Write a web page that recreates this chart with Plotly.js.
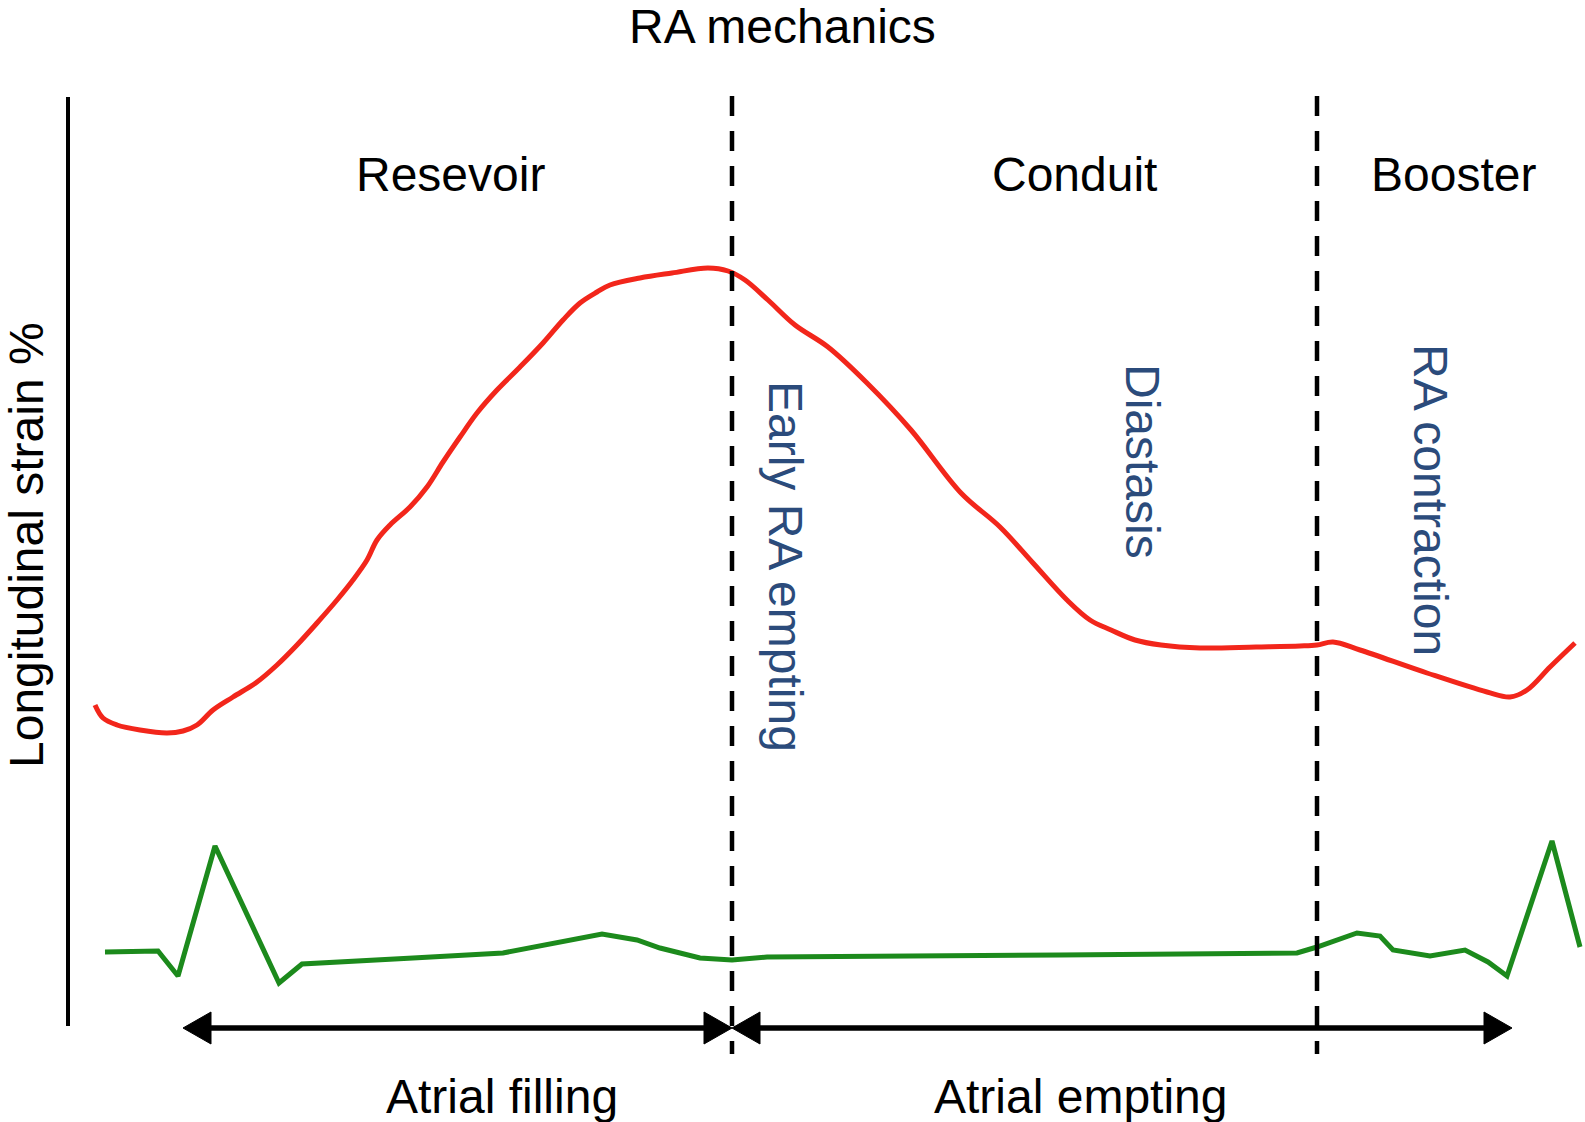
<!DOCTYPE html>
<html>
<head>
<meta charset="utf-8">
<script src="https://cdn.plot.ly/plotly-3.0.1.min.js"></script>
<style>html,body{margin:0;padding:0;background:#fff;}#chart{width:1585px;height:1122px;}</style>
</head>
<body>
<div id="chart"></div>
<script>
// ---- data (time in arbitrary units, strain in arbitrary units) ----
var strainTime = [95,103,117,140,167,183,197,213,233,257,277,297,317,337,353,367,377,390,410,427,443,460,477,497,520,543,563,580,597,610,640,672,708,728,745,768,795,828,867,911,961,1000,1033,1067,1090,1111,1135,1161,1200,1256,1300,1317,1333,1360,1427,1487,1510,1527,1550,1575];
var strainValue = [417,404,397,392,389,391,397,412,425,440,457,477,499,522,542,562,582,597,615,635,660,685,709,732,755,779,802,819,830,837,844,849,854,851,842,822,797,775,739,692,629,595,559,522,502,492,482,477,474,475,476,477,480,472,449,430,425,432,455,479];

var ecgTime = [105,158,178,215,279,302,413,503,602,637,660,700,732,767,1060,1297,1317,1357,1380,1393,1430,1465,1488,1507,1552,1580];
var ecgValue = [170,171,146,276,139,158,164,169,188,182,174,164,162,165,167,169,175,189,186,172,166,172,160,146,281,175];

var phaseBoundaries = [732, 1317];
var phaseNames = ["Resevoir", "Conduit", "Booster"];
var phaseNameX = [450, 1074, 1453];

var subPhaseNames = ["Early RA empting", "Diastasis", "RA contraction"];
var subPhaseX = [786, 1143, 1431];
var subPhaseY = [556, 661, 622];

var cycleNames = ["Atrial filling", "Atrial empting"];
var cycleNameX = [502, 1080];
var cycleStart = [183, 732];
var cycleEnd = [732, 1512];

var titleText = "RA mechanics";
var yTitleText = "Longitudinal strain %";

// ---- layout constants ----
var W = 1585, H = 1122;
var FONT = "Liberation Sans, Arial, Helvetica, sans-serif";
var FS = 48;
var blue = "#2b4b7b";
var arrowY = 94, headLen = 28, headHalf = 16;

var traces = [
  {x: strainTime, y: strainValue, type: "scatter", mode: "lines",
   line: {color: "#f2261b", width: 5, shape: "spline", smoothing: 1.0}, hoverinfo: "skip"},
  {x: ecgTime, y: ecgValue, type: "scatter", mode: "lines",
   line: {color: "#1c8a1c", width: 5}, hoverinfo: "skip"}
];

var shapes = [];
// vertical axis line
shapes.push({type: "line", xref: "x", yref: "y", x0: 68, x1: 68, y0: 96, y1: 1025,
  line: {color: "#000", width: 4}});
// phase boundaries
phaseBoundaries.forEach(function (b) {
  shapes.push({type: "line", xref: "x", yref: "y", x0: b, x1: b, y0: 1026, y1: 68,
    line: {color: "#000", width: 4.5, dash: "20px,15px"}, layer: "above"});
});
// cycle arrows
cycleStart.forEach(function (s, i) {
  var e = cycleEnd[i];
  shapes.push({type: "line", xref: "x", yref: "y", x0: s + headLen - 2, x1: e - headLen + 2, y0: arrowY, y1: arrowY,
    line: {color: "#000", width: 5.5}});
  shapes.push({type: "path", xref: "x", yref: "y",
    path: "M" + s + "," + arrowY + " L" + (s + headLen) + "," + (arrowY + headHalf) + " L" + (s + headLen) + "," + (arrowY - headHalf) + " Z",
    fillcolor: "#000", line: {color: "#000", width: 1}});
  shapes.push({type: "path", xref: "x", yref: "y",
    path: "M" + e + "," + arrowY + " L" + (e - headLen) + "," + (arrowY + headHalf) + " L" + (e - headLen) + "," + (arrowY - headHalf) + " Z",
    fillcolor: "#000", line: {color: "#000", width: 1}});
});

var annotations = [];
function txt(t, x, y, color, angle) {
  annotations.push({text: t, x: x, y: y, xref: "x", yref: "y", showarrow: false,
    xanchor: "center", yanchor: "middle", textangle: angle || 0,
    font: {family: FONT, size: FS, color: color}});
}
txt(titleText, 782, 1096, "#000");
phaseNames.forEach(function (n, i) { txt(n, phaseNameX[i], 948, "#000"); });
subPhaseNames.forEach(function (n, i) { txt(n, subPhaseX[i], subPhaseY[i], blue, 90); });
cycleNames.forEach(function (n, i) { txt(n, cycleNameX[i], 26, "#000"); });
txt(yTitleText, 26, 577, "#000", -90);

var layout = {
  width: W, height: H,
  margin: {l: 0, r: 0, t: 0, b: 0, pad: 0},
  paper_bgcolor: "#fff", plot_bgcolor: "#fff",
  showlegend: false,
  xaxis: {range: [0, W], visible: false, fixedrange: true},
  yaxis: {range: [0, H], visible: false, fixedrange: true},
  shapes: shapes,
  annotations: annotations
};

Plotly.newPlot("chart", traces, layout, {staticPlot: true, displayModeBar: false});
</script>
</body>
</html>
